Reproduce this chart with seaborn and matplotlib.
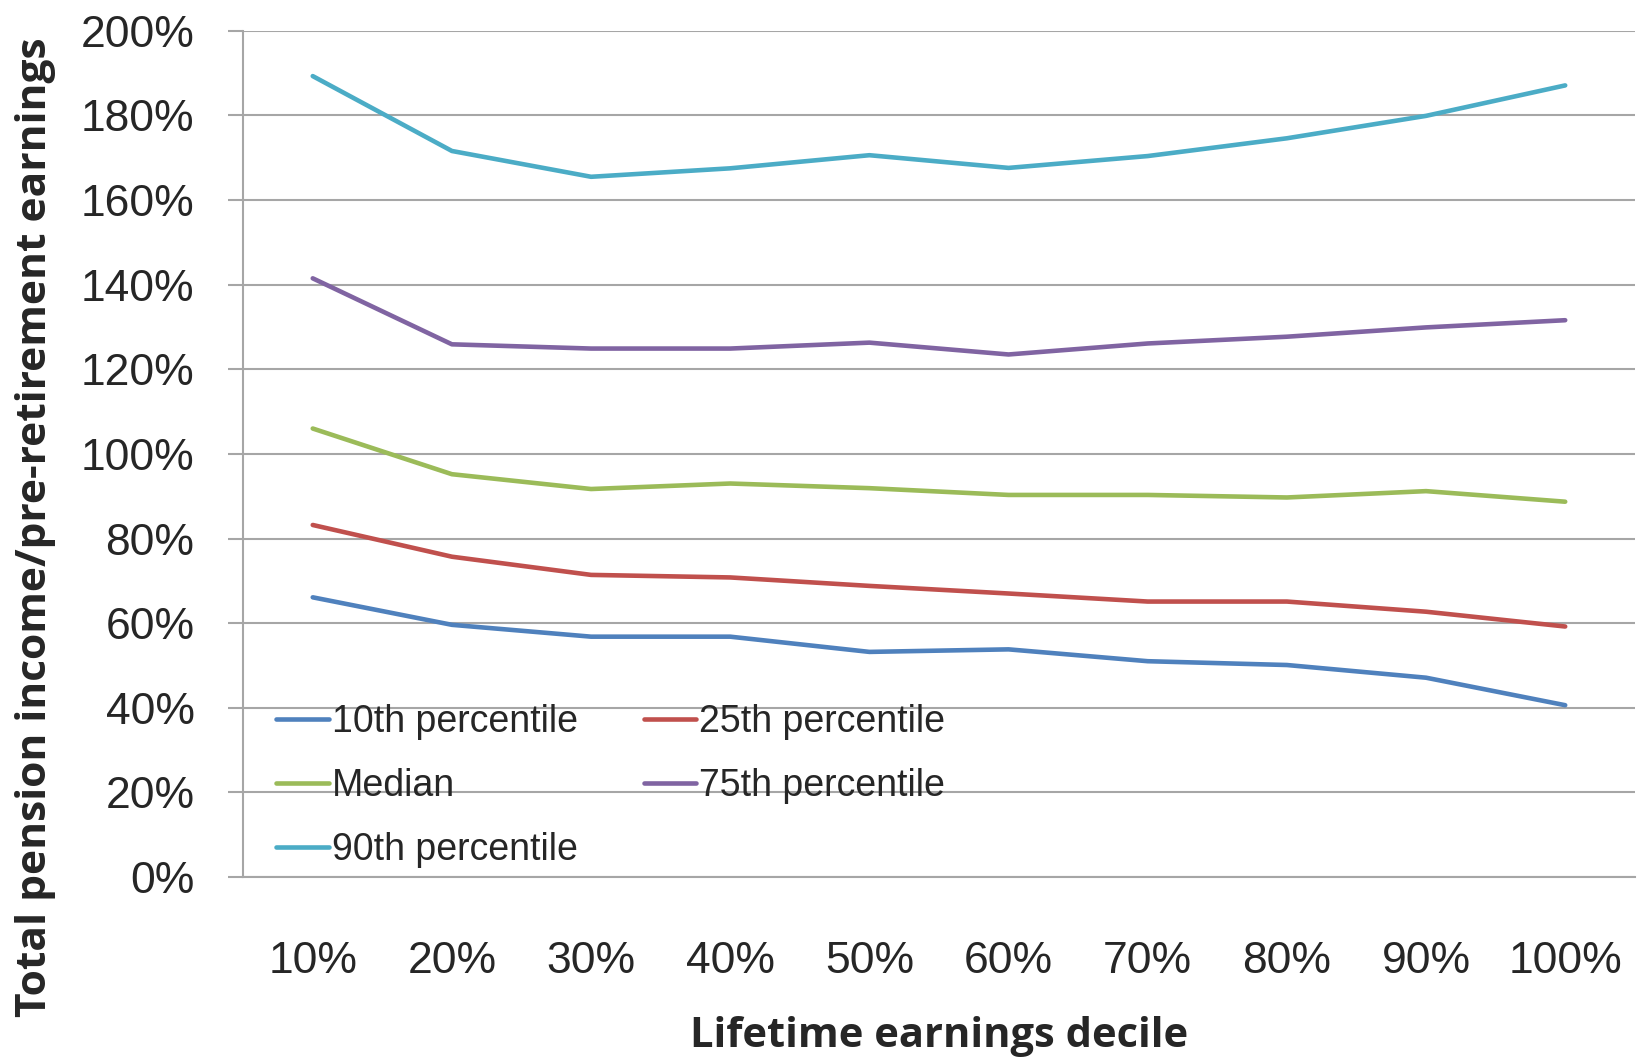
import matplotlib

matplotlib.use("Agg")
import matplotlib.pyplot as plt
import pandas as pd
import seaborn as sns
from matplotlib.ticker import FixedLocator, PercentFormatter

deciles = ["10%", "20%", "30%", "40%", "50%", "60%", "70%", "80%", "90%", "100%"]

p10 = [66.1, 59.6, 56.8, 56.8, 53.2, 53.8, 51.0, 50.1, 47.1, 40.6]
p25 = [83.2, 75.7, 71.4, 70.8, 68.8, 67.0, 65.1, 65.1, 62.7, 59.2]
median = [106.0, 95.2, 91.7, 93.0, 91.9, 90.3, 90.3, 89.7, 91.2, 88.7]
p75 = [141.5, 125.9, 124.9, 124.9, 126.3, 123.5, 126.1, 127.7, 129.9, 131.6]
p90 = [189.3, 171.6, 165.5, 167.5, 170.6, 167.6, 170.4, 174.6, 179.9, 187.1]

series_names = ["10th percentile", "25th percentile", "Median", "75th percentile", "90th percentile"]
series_values = [p10, p25, median, p75, p90]
colors = ["#4F81BD", "#C0504D", "#9BBB59", "#8064A2", "#4BACC6"]

frame = pd.DataFrame(
    [
        {"pos": i, "decile": d, "series": name, "value": v}
        for name, vals in zip(series_names, series_values)
        for i, (d, v) in enumerate(zip(deciles, vals))
    ]
)

sns.set_style("white")
plt.rcParams["font.family"] = ["Liberation Sans", "DejaVu Sans"]

fig = plt.figure(figsize=(16.43, 10.63), dpi=100)
ax = fig.add_axes([0.148, 0.175, 0.847, 0.796])

sns.lineplot(
    data=frame,
    x="pos",
    y="value",
    hue="series",
    hue_order=series_names,
    palette=colors,
    linewidth=3.3,
    ax=ax,
)

ax.set_xlim(-0.5, len(deciles) - 0.5)
ax.set_ylim(0, 200)
ax.yaxis.set_major_locator(FixedLocator(range(0, 201, 20)))
ax.yaxis.set_major_formatter(PercentFormatter(decimals=0))
ax.set_xticks(range(len(deciles)))
ax.set_xticklabels(deciles)
ax.xaxis.set_minor_locator(FixedLocator([i - 0.5 for i in range(len(deciles) + 1)]))

ax.grid(axis="y", color="#a6a6a6", linewidth=1.5)
ax.grid(axis="x", visible=False)
ax.set_axisbelow(True)
for side in ["top", "right"]:
    ax.spines[side].set_visible(False)
for side in ["left", "bottom"]:
    ax.spines[side].set_color("#a6a6a6")
    ax.spines[side].set_linewidth(1.5)

ax.tick_params(axis="x", which="major", length=0, pad=46, labelsize=32)
ax.tick_params(axis="x", which="minor", length=11, width=1.5, color="#a6a6a6", direction="out")
ax.tick_params(axis="y", length=11, width=1.5, color="#a6a6a6", direction="out", labelsize=32, pad=24)
ax.tick_params(axis="both", left=True, bottom=True)

label_font = ["Open Sans", "DejaVu Sans"]
ax.set_xlabel("Lifetime earnings decile", fontsize=30, fontweight="bold",
              family=label_font, va="center")
ax.xaxis.set_label_coords(0.5, -0.189)
ax.set_ylabel("Total pension income/pre-retirement earnings", fontsize=30.6, fontweight="bold",
              family=label_font, va="center", ha="center")
ax.yaxis.set_label_coords(-0.1494, 0.4137)

# Excel fills the legend row by row; matplotlib fills column by column
handles, labels = ax.get_legend_handles_labels()
order = [0, 2, 4, 1, 3]
leg = ax.legend(
    [handles[i] for i in order],
    [labels[i] for i in order],
    loc="lower left",
    bbox_to_anchor=(0.013, -0.0075),
    borderaxespad=0,
    ncol=2,
    frameon=False,
    fontsize=27,
    handlelength=1.4,
    handletextpad=0.08,
    columnspacing=1.76,
    labelspacing=0.75,
)
for line in leg.get_lines():
    line.set_linewidth(3.3)

fig.savefig("out.png", dpi=100)
